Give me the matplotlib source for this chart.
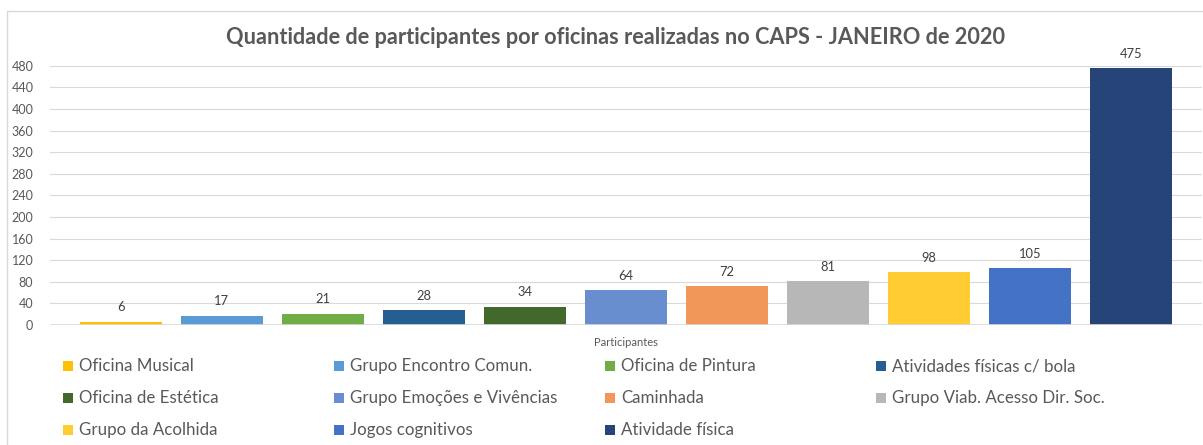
import matplotlib
matplotlib.use("Agg")
import matplotlib.pyplot as plt
from matplotlib.patches import Rectangle

plt.rcParams['font.family'] = ['Lato', 'DejaVu Sans']

oficinas = ["Oficina Musical", "Grupo Encontro Comun.", "Oficina de Pintura",
            "Atividades físicas c/ bola", "Oficina de Estética",
            "Grupo Emoções e Vivências", "Caminhada", "Grupo Viab. Acesso Dir. Soc.",
            "Grupo da Acolhida", "Jogos cognitivos", "Atividade física"]
participantes = [6, 17, 21, 28, 34, 64, 72, 81, 98, 105, 475]
cores = ["#FFC000", "#5B9BD5", "#70AD47", "#255E91", "#43682B", "#698ED0",
         "#F1975A", "#B7B7B7", "#FFCD33", "#4472C4", "#264478"]
yticks = list(range(0, 481, 40))
categoria = "Participantes"
titulo = "Quantidade de participantes por oficinas realizadas no CAPS - JANEIRO de 2020"

W, H = 1203, 445
fig = plt.figure(figsize=(W / 100, H / 100), dpi=100)
ax = fig.add_axes([50 / W, 120 / H, 1152 / W, 259.3 / H])

pos = list(range(len(participantes)))
bars = ax.bar(pos, participantes, width=0.81, color=cores, zorder=2)
for b, v in zip(bars, participantes):
    ax.annotate(str(v), (b.get_x() + b.get_width() / 2, v), xytext=(0, 6),
                textcoords='offset points', ha='center', va='bottom',
                fontsize=9.3, color='#404040')

ax.set_xlim(-0.70, 10.70)
ax.set_ylim(0, 480)
ax.set_yticks(yticks)
ax.grid(axis='y', color='#d9d9d9', lw=0.8, zorder=0)
ax.axhline(0, color='#d9d9d9', lw=1.2, zorder=3)
for s in ax.spines.values():
    s.set_visible(False)
ax.tick_params(axis='both', length=0, labelsize=9, labelcolor='#595959')
ax.tick_params(axis='y', pad=12)
ax.tick_params(axis='x', pad=9, labelsize=8)
ax.set_xticks([5], [categoria])

fig.text(616 / W, 1 - 37 / H, titulo, ha='center', va='center',
         fontsize=15.7, fontweight='bold', color='#595959')

# legenda em 4 colunas, preenchida por linhas
for i, (nome, cor) in enumerate(zip(oficinas, cores)):
    lin, col = divmod(i, 4)
    x0 = 63 + col * 271
    y0 = 366 + lin * 32
    fig.add_artist(Rectangle((x0 / W, 1 - (y0 + 5) / H), 10 / W, 10 / H,
                             transform=fig.transFigure, color=cor, lw=0))
    fig.text((x0 + 16) / W, 1 - y0 / H, nome, ha='left', va='center',
             fontsize=12.2, color='#595959')

fig.add_artist(Rectangle((7 / W, -0.05), 1.1, 0.05 + 1 - 11 / H,
                         transform=fig.transFigure, fill=False,
                         ec='#d9d9d9', lw=1))

fig.savefig("out.png", dpi=100)
